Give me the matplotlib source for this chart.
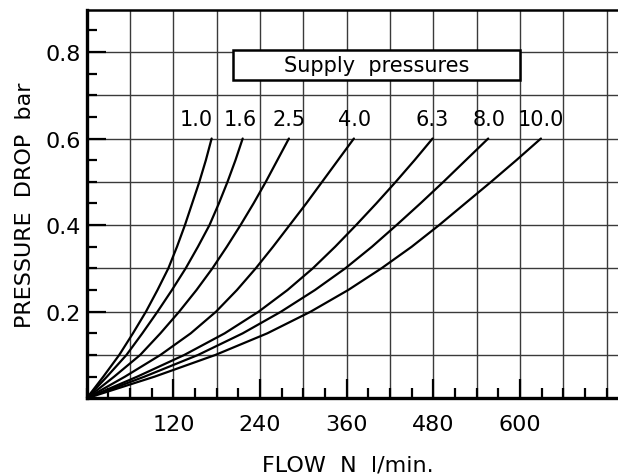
import numpy as np
import matplotlib.pyplot as plt
from matplotlib.patches import Rectangle
from matplotlib.ticker import MultipleLocator

drop = [0.0, 0.05, 0.1, 0.15, 0.2, 0.25, 0.3, 0.35, 0.4, 0.45, 0.5, 0.55, 0.6]

# flow (N l/min) for each supply pressure curve
flow_10 = [0, 23, 45, 64, 82, 98, 113, 125, 136, 146, 156, 165, 173]
flow_16 = [0, 28, 55, 77, 98, 118, 137, 154, 170, 183, 195, 206, 216]
flow_25 = [0, 38, 74, 102, 128, 152, 174, 194, 213, 231, 248, 264, 280]
flow_40 = [0, 53, 102, 144, 179, 208, 234, 258, 281, 304, 326, 348, 370]
flow_63 = [0, 70, 135, 191, 238, 278, 313, 344, 373, 401, 428, 454, 479]
flow_80 = [0, 80, 154, 216, 269, 316, 358, 395, 429, 462, 494, 525, 556]
flow_100 = [0, 94, 178, 250, 310, 362, 408, 450, 488, 524, 560, 595, 629]

curves = [flow_10, flow_16, flow_25, flow_40, flow_63, flow_80, flow_100]
labels = ['1.0', '1.6', '2.5', '4.0', '6.3', '8.0', '10.0']
label_x = [152, 213, 280, 371, 478, 557, 629]

fig = plt.figure(figsize=(6.18, 4.77), dpi=100)
ax = fig.add_axes([0.1403, 0.1629, 0.8647, 0.8140])
ax.set_xlim(0, 740)
ax.set_ylim(0, 0.8968)

# grid every 60 l/min and 0.1 bar
for gx in np.arange(60, 741, 60):
    ax.axvline(gx, color='#3a3a3a', lw=1.0, zorder=1)
for gy in np.arange(0.1, 0.85, 0.1):
    ax.axhline(gy, color='#3a3a3a', lw=1.0, zorder=1)

for fl, lab, lx in zip(curves, labels, label_x):
    ax.plot(fl, drop, color='black', lw=1.6, zorder=3,
            solid_capstyle='round', solid_joinstyle='round')
    ax.text(lx, 0.645, lab, ha='center', va='center', fontsize=15, zorder=4)

# legend box
ax.add_patch(Rectangle((203, 0.735), 397, 0.069, facecolor='white',
                       edgecolor='black', lw=1.8, zorder=5))
ax.text(402, 0.770, 'Supply  pressures', ha='center', va='center',
        fontsize=15, zorder=6)

# ticks
ax.xaxis.set_minor_locator(MultipleLocator(30))
ax.yaxis.set_minor_locator(MultipleLocator(0.05))
ax.tick_params(which='major', direction='in', length=14, width=1.6,
               labelsize=16, color='black')
ax.tick_params(which='minor', direction='in', length=7, width=1.6,
               color='black')
ax.tick_params(axis='x', which='major', pad=11)
ax.tick_params(axis='y', which='major', pad=4)
ax.set_xticks([120, 240, 360, 480, 600])
ax.set_xticklabels(['120', '240', '360', '480', '600'])
ax.set_yticks([0.2, 0.4, 0.6, 0.8])
ax.set_yticklabels(['0.2', '0.4', '0.6', '0.8'])

for side in ['left', 'bottom']:
    ax.spines[side].set_linewidth(2.4)
ax.spines['top'].set_linewidth(1.8)
ax.spines['right'].set_visible(False)

ax.set_ylabel('PRESSURE  DROP  bar', fontsize=16, labelpad=8)
ax.text(361, -0.152, 'FLOW  N  l/min.', ha='center', va='center',
        fontsize=16, transform=ax.transData, clip_on=False)

fig.savefig('out.png', dpi=100)
